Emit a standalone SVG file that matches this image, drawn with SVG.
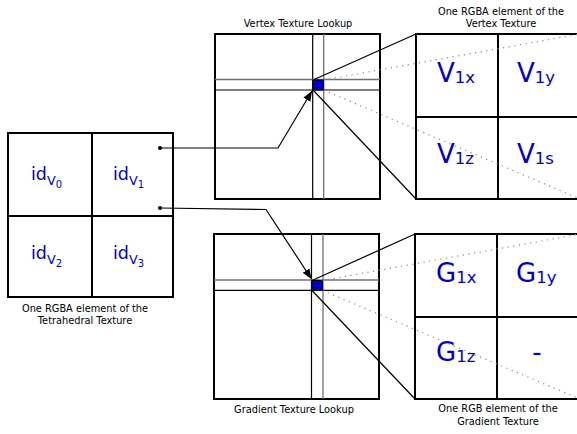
<svg xmlns="http://www.w3.org/2000/svg" width="577" height="434" viewBox="0 0 577 434">
<defs>
<style>
.box{fill:#fff;stroke:#000;stroke-width:2}
.ln{stroke:#000;stroke-width:1.2;fill:none}
.gl{stroke:#707070;stroke-width:1.3;fill:none}
.dot{stroke:#8a8a8a;stroke-width:1.2;stroke-dasharray:1.2 4.5;fill:none}
.lbl{font-family:"DejaVu Sans",sans-serif;font-size:9.8px;fill:#000;text-anchor:middle}
.big{font-family:"DejaVu Sans",sans-serif;fill:#0000cc;font-size:26px}
.id{font-family:"DejaVu Sans",sans-serif;fill:#0000cc;font-size:17.5px}
.px{fill:#0000cc;stroke:#000;stroke-width:1}
</style>
<marker id="ah" viewBox="0 0 10 10" refX="10" refY="5" markerWidth="10" markerHeight="10" markerUnits="userSpaceOnUse" orient="auto">
<path d="M0,1 L10,5 L0,9 Z" fill="#000"/>
</marker>
</defs>

<g id="tetrahedral-texture">
<rect class="box" x="8" y="133" width="165" height="164"/>
<line class="ln" x1="92" y1="133" x2="92" y2="297" style="stroke-width:2"/>
<line class="ln" x1="8" y1="216" x2="173" y2="216" style="stroke-width:2"/>
<text class="id" x="31" y="180">id<tspan font-size="12.8" dy="5">V</tspan><tspan font-size="10" dy="2.5">0</tspan></text>
<text class="id" x="113" y="180">id<tspan font-size="12.8" dy="5">V</tspan><tspan font-size="10" dy="2.5">1</tspan></text>
<text class="id" x="31" y="259">id<tspan font-size="12.8" dy="5">V</tspan><tspan font-size="10" dy="2.5">2</tspan></text>
<text class="id" x="113" y="259">id<tspan font-size="12.8" dy="5">V</tspan><tspan font-size="10" dy="2.5">3</tspan></text>
<circle cx="160" cy="148" r="2" fill="#000"/>
<circle cx="160" cy="208" r="2" fill="#000"/>
<text class="lbl" x="85" y="311.5">One RGBA element of the</text>
<text class="lbl" x="85" y="324">Tetrahedral Texture</text>
</g>

<g id="vertex-lookup">
<rect class="box" x="215" y="34" width="165" height="165"/>
<line class="ln" x1="312.7" y1="34" x2="312.7" y2="199"/>
<line class="gl" x1="323.7" y1="34" x2="323.7" y2="199"/>
<line class="gl" x1="215" y1="79.5" x2="380" y2="79.5"/>
<line class="ln" x1="215" y1="90" x2="380" y2="90"/>
<rect class="px" x="313" y="80" width="10.5" height="10"/>
<text class="lbl" x="298" y="27">Vertex Texture Lookup</text>
</g>

<g id="gradient-lookup">
<rect class="box" x="214" y="234" width="165" height="165"/>
<line class="ln" x1="311.5" y1="234" x2="311.5" y2="399"/>
<line class="gl" x1="323" y1="234" x2="323" y2="399"/>
<line class="gl" x1="214" y1="280" x2="379" y2="280"/>
<line class="ln" x1="214" y1="290.3" x2="379" y2="290.3"/>
<rect class="px" x="312" y="280.5" width="10.5" height="10"/>
<text class="lbl" x="294" y="413">Gradient Texture Lookup</text>
</g>

<g id="vertex-element">
<rect class="box" x="416" y="34" width="164" height="165"/>
<line class="ln" x1="498" y1="34" x2="498" y2="199" style="stroke-width:2"/>
<line class="ln" x1="416" y1="117" x2="580" y2="117" style="stroke-width:2"/>
<text class="big" x="437" y="82">V<tspan font-size="16.5" dy="1">1x</tspan></text>
<text class="big" x="517" y="82">V<tspan font-size="16.5" dy="1">1y</tspan></text>
<text class="big" x="437" y="163">V<tspan font-size="16.5" dy="1">1z</tspan></text>
<text class="big" x="517" y="163">V<tspan font-size="16.5" dy="1">1s</tspan></text>
<text class="lbl" x="501" y="14.5">One RGBA element of the</text>
<text class="lbl" x="501" y="26.5">Vertex Texture</text>
</g>

<g id="gradient-element">
<rect class="box" x="415" y="234" width="165" height="165"/>
<line class="ln" x1="497" y1="234" x2="497" y2="399" style="stroke-width:2"/>
<line class="ln" x1="415" y1="317" x2="580" y2="317" style="stroke-width:2"/>
<text class="big" x="436" y="282">G<tspan font-size="16.5" dy="1">1x</tspan></text>
<text class="big" x="516" y="282">G<tspan font-size="16.5" dy="1">1y</tspan></text>
<text class="big" x="436" y="361">G<tspan font-size="16.5" dy="1">1z</tspan></text>
<text class="big" x="537" y="361" text-anchor="middle">-</text>
<text class="lbl" x="498" y="411.5">One RGB element of the</text>
<text class="lbl" x="498" y="424.5">Gradient Texture</text>
</g>

<g id="connectors">
<polyline class="ln" points="160,148 278,148 312,91" marker-end="url(#ah)"/>
<polyline class="ln" points="160,208 266,209.5 311.5,279" marker-end="url(#ah)"/>
<line class="ln" x1="313" y1="80" x2="416" y2="34"/>
<line class="ln" x1="313" y1="90" x2="416" y2="199"/>
<line class="dot" x1="323.5" y1="80" x2="580" y2="34"/>
<line class="dot" x1="323.5" y1="90" x2="580" y2="199"/>
<line class="ln" x1="312" y1="280.5" x2="415" y2="234"/>
<line class="ln" x1="312" y1="290.5" x2="415" y2="399"/>
<line class="dot" x1="322.5" y1="280.5" x2="580" y2="234"/>
<line class="dot" x1="322.5" y1="290.5" x2="580" y2="399"/>
</g>
</svg>
